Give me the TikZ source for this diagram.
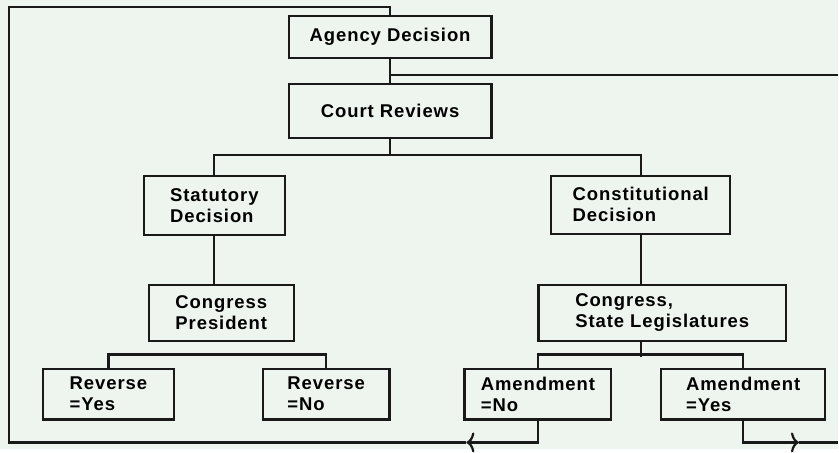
\documentclass[tikz,border=0pt]{standalone}
\usepackage{fontspec}
\setmainfont{Liberation Sans}[LetterSpace=5]
\usetikzlibrary{arrows.meta}
\definecolor{paper}{RGB}{238,244,238}
\definecolor{ink}{RGB}{25,25,25}
\tikzstyle{decision}=[rectangle, draw=ink, line width=2.2pt, align=left, anchor=north west, inner sep=0pt, font=\fontsize{18.5}{21}\selectfont\bfseries]
\tikzstyle{link}=[draw=ink, line width=2.2pt]
\tikzstyle{back}=[-{To[length=8pt, width=20pt]}]

\begin{document}
\begin{tikzpicture}[x=1pt, y=-1pt]
    \path[fill=paper] (0,0) rectangle (839,450);
    \node[decision, minimum width=203pt, minimum height=42pt] (agency) at (288,15) {Agency Decision};
    \node[decision, minimum width=203pt, minimum height=54pt] (court) at (288,83) {Court Reviews};
    \node[decision, minimum width=141pt, minimum height=59pt] (statutory) at (143,175) {Statutory\\Decision};
    \node[decision, minimum width=179pt, minimum height=58pt] (constit) at (551,175) {Constitutional\\Decision};
    \node[decision, minimum width=145pt, minimum height=56pt] (congpres) at (148,284) {Congress\\President};
    \node[decision, minimum width=248pt, minimum height=56pt] (congstate) at (538,284) {Congress,\\State Legislatures};
    \node[decision, minimum width=131pt, minimum height=51pt] (revyes) at (42,368) {Reverse\\=Yes};
    \node[decision, minimum width=127pt, minimum height=51pt] (revno) at (262,368) {Reverse\\=No};
    \node[decision, minimum width=147pt, minimum height=51pt] (amno) at (464,368) {Amendment\\=No};
    \node[decision, minimum width=164pt, minimum height=51pt] (amyes) at (661,368) {Amendment\\=Yes};
    \coordinate (topleft) at (9,7);
    \coordinate (botleft) at (9,443);
    \coordinate (tipL) at (467,443);
    \coordinate (tipR) at (800,443);
    \coordinate (botright) at (839,443);
    \coordinate (midright) at (839,75);
    \draw[link] (agency) -- (court);
    \draw[link] (agency.south |- midright) -- (midright);
    \draw[link] (court.south) -- ++(0,16) -| (statutory.north);
    \draw[link] (court.south) -- ++(0,16) -| (constit.north);
    \draw[link] (statutory.south) -- (statutory.south |- congpres.north);
    \draw[link] (constit.south) -- (constit.south |- congstate.north);
    \draw[link] (revyes.north) -- ++(0,-13) -| (revno.north);
    \draw[link] (constit.south |- congstate.south) -- ++(0,15);
    \draw[link] (amno.north) -- ++(0,-13) -| (amyes.north);
    \draw[link, back] (amno.south) |- (tipL);
    \draw[link] (tipL) -- (botleft) -- (topleft) -| (agency.north);
    \draw[link, back] (amyes.south) |- (tipR);
    \draw[link] (tipR) -- (botright);
\end{tikzpicture}
\end{document}
